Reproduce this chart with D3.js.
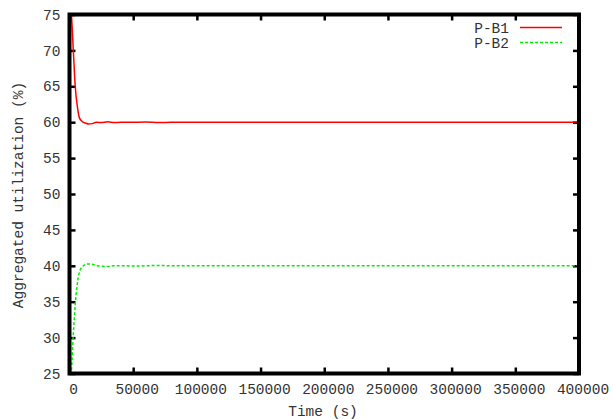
<!DOCTYPE html>
<html><head><meta charset="utf-8">
<script src="https://cdn.jsdelivr.net/npm/d3@7"></script>
<style>body{margin:0;background:#fff}svg{display:block}</style>
</head><body><svg id="c" width="613" height="419"></svg>
<script>
const xTicks = [0,50000,100000,150000,200000,250000,300000,350000,400000];
const yTicks = [25,30,35,40,45,50,55,60,65,70,75];
const timeB1 = [0,1500,3000,4500,6300,7800,10000,13000,15000,18000,21000,25000,30000,35000,40000,50000,60000,70000,80000,100000,150000,200000,250000,300000,350000,390000,400000];
const valB1  = [77,75,70,65,62,60.6,60.1,59.85,59.75,59.8,60.0,59.95,60.05,59.95,59.98,60.0,60.02,59.95,60.0,60.0,60.0,60.0,60.0,60.0,59.98,59.98,60.05];
const timeB2 = [0,1000,1600,2900,4700,6500,8600,11000,13900,17800,21700,25000,29600,35000,40000,50000,60000,70000,80000,100000,150000,200000,250000,300000,350000,400000];
const valB2  = [22,24,25.5,30.1,35,38,39.5,40.0,40.25,40.2,40.0,39.95,39.9,40.0,40.0,39.98,40.0,40.05,40.0,40.0,40.0,40.0,40.0,40.0,40.0,40.0];
const seriesNames = ["P-B1","P-B2"];
const colors = ["#ff0000","#00ee00"];

const svg = d3.select("#c");
const L=69.5, R=579, T=14.5, B=373.5;
const x = d3.scaleLinear().domain([0,400000]).range([L,R]);
const y = d3.scaleLinear().domain([25,75]).range([B,T]);
const font = "Liberation Mono, DejaVu Sans Mono, monospace";
const fs = 14.5, tc = "#333";

svg.append("clipPath").attr("id","clip").append("rect").attr("x",L).attr("y",T).attr("width",R-L).attr("height",B-T);

function styleAxis(g){
  g.select(".domain").remove();
  g.selectAll("line").attr("stroke","#000").attr("stroke-width",2.5);
  g.selectAll("text").attr("font-family",font).attr("font-size",fs).attr("fill",tc);
}
svg.append("g").attr("transform",`translate(${L},0)`)
  .call(d3.axisLeft(y).tickValues(yTicks).tickSize(-6).tickPadding(9).tickFormat(d3.format("d"))).call(styleAxis);
svg.append("g").attr("transform",`translate(${R},0)`)
  .call(d3.axisRight(y).tickValues(yTicks).tickSize(-6).tickFormat("")).call(styleAxis);
svg.append("g").attr("transform",`translate(0,${B})`)
  .call(d3.axisBottom(x).tickValues(xTicks).tickSize(-6).tickPadding(10).tickFormat(d3.format("d"))).call(styleAxis)
  .selectAll("text").attr("dx",3.5);
svg.append("g").attr("transform",`translate(0,${T})`)
  .call(d3.axisTop(x).tickValues(xTicks).tickSize(-6).tickFormat("")).call(styleAxis);

const line = d3.line().x(d=>x(d[0])).y(d=>y(d[1])).curve(d3.curveMonotoneX);
const data = [d3.zip(timeB1,valB1), d3.zip(timeB2,valB2)];
const g = svg.append("g").attr("clip-path","url(#clip)");
g.append("path").datum(data[0]).attr("d",line).attr("fill","none").attr("stroke",colors[0]).attr("stroke-width",1.5);
g.append("path").datum(data[1]).attr("d",line).attr("fill","none").attr("stroke",colors[1]).attr("stroke-width",1.5).attr("stroke-dasharray","3,2");

svg.append("rect").attr("x",L).attr("y",T).attr("width",R-L).attr("height",B-T)
  .attr("fill","none").attr("stroke","#000").attr("stroke-width",4);

// legend
seriesNames.forEach((n,i)=>{
  const ly = 27.5 + i*15;
  svg.append("text").attr("x",509).attr("y",ly).attr("dy","0.35em").attr("text-anchor","end")
    .attr("font-family",font).attr("font-size",fs).attr("fill",tc).text(n);
  svg.append("line").attr("x1",520).attr("x2",562).attr("y1",ly).attr("y2",ly)
    .attr("stroke",colors[i]).attr("stroke-width",1.5).attr("stroke-dasharray",i?"3,2":null);
});

svg.append("text").attr("x",323).attr("y",411).attr("dy","0.35em").attr("text-anchor","middle")
  .attr("font-family",font).attr("font-size",fs).attr("fill",tc).text("Time (s)");
svg.append("text").attr("transform","translate(18,195) rotate(-90)").attr("dy","0.35em").attr("text-anchor","middle")
  .attr("font-family",font).attr("font-size",fs).attr("fill",tc).text("Aggregated utilization (%)");
</script></body></html>
